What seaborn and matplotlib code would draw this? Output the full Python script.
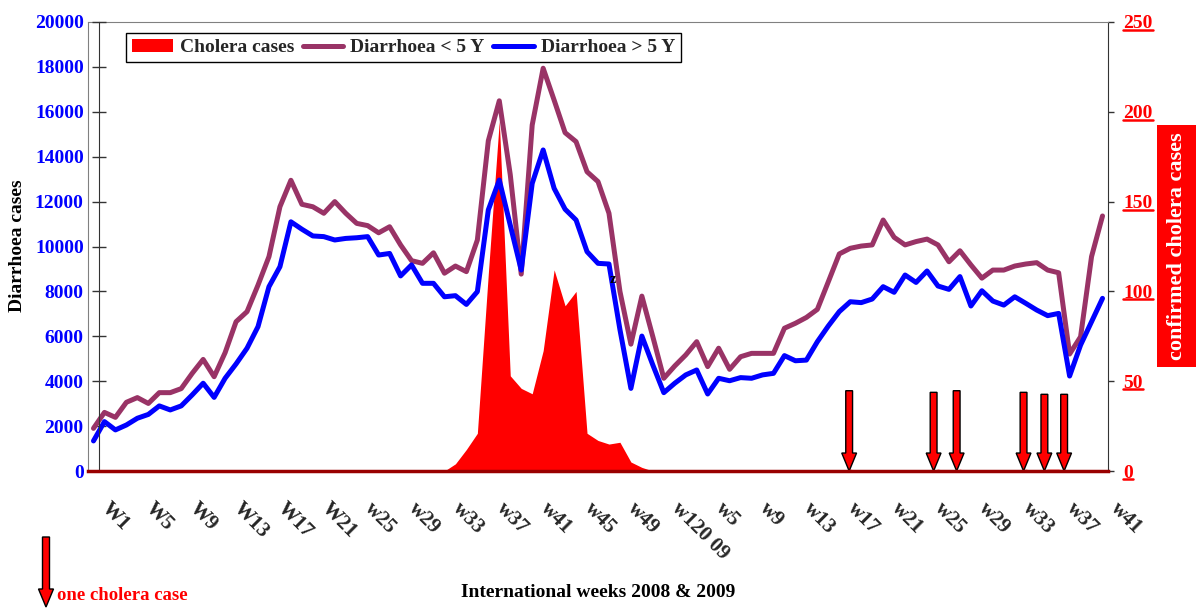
import numpy as np
import pandas as pd
import seaborn as sns
import matplotlib.pyplot as plt
from matplotlib.patches import Patch, FancyArrow, Rectangle
from matplotlib.lines import Line2D
from matplotlib.transforms import ScaledTranslation, IdentityTransform

sns.set_style("white")
plt.rcParams['font.family'] = ['Liberation Serif', 'DejaVu Serif']
plt.rcParams['font.weight'] = 'bold'
plt.rcParams['axes.labelweight'] = 'bold'

# weekly diarrhoea cases, W1 2008 .. w41 2009
under5 = [1900, 2610, 2390, 3060, 3270, 3010, 3490, 3490, 3670, 4350,
          4970, 4200, 5270, 6650, 7100, 8280, 9550, 11770, 12950, 11880,
          11770, 11480, 12000, 11480, 11030, 10930, 10610, 10880, 10070, 9370,
          9250, 9720, 8810, 9130, 8880, 10290, 14710, 16490, 13200, 8770,
          15410, 17940, 16520, 15070, 14670, 13330, 12890, 11480, 8000, 5650,
          7790, 5980, 4130, 4680, 5170, 5760, 4650, 5470, 4530, 5090,
          5240, 5240, 5240, 6360, 6580, 6840, 7200, 8430, 9670, 9920,
          10020, 10070, 11180, 10410, 10070, 10220, 10330, 10070, 9320, 9810,
          9180, 8590, 8950, 8950, 9130, 9220, 9280, 8950, 8830, 5210,
          5980, 9550, 11360]
over5 = [1340, 2200, 1830, 2050, 2350, 2520, 2900, 2720, 2900, 3390,
         3910, 3280, 4130, 4770, 5470, 6430, 8210, 9100, 11100, 10770,
         10470, 10440, 10290, 10360, 10390, 10440, 9620, 9690, 8690, 9180,
         8360, 8360, 7760, 7810, 7420, 7990, 11630, 12960, 10950, 8950,
         12810, 14300, 12590, 11660, 11180, 9770, 9250, 9220, 6300, 3680,
         6010, 4720, 3490, 3910, 4280, 4500, 3430, 4130, 4020, 4160,
         4130, 4280, 4350, 5140, 4910, 4940, 5760, 6460, 7100, 7540,
         7500, 7660, 8210, 7960, 8730, 8400, 8910, 8240, 8090, 8660,
         7350, 8030, 7570, 7390, 7760, 7470, 7170, 6920, 7020, 4230,
         5610, 6650, 7690]
# confirmed cholera cases per week
cholera = [0] * 32 + [0, 4, 12, 21, 110, 195, 53, 46, 43, 67,
                      112, 92, 100, 21, 17, 15, 16, 5, 2, 0] + [0] * 41
for w in [69, 77, 79, 85, 87, 88]:
    cholera[w] = 1

# single cholera cases marked with arrows (week position, arrow top)
arrow_weeks = [68.9, 76.6, 78.7, 84.8, 86.7, 88.5]
arrow_tops = [44.7, 43.8, 44.7, 43.8, 42.7, 42.7]

tick_labels = ['W1', 'W5', 'W9', 'W13', 'W17', 'W21', 'w25', 'w29', 'w33', 'w37',
               'w41', 'w45', 'w49', 'w120 09', 'w5', 'w9', 'w13', 'w17', 'w21',
               'w25', 'w29', 'w33', 'w37', 'w41']

weeks = np.arange(len(under5))
df = pd.DataFrame({"week": weeks, "under5": under5, "over5": over5, "cholera": cholera})

PURPLE = "#993366"
BLUE = "#0000FF"
RED = "#FF0000"
DARK = "#333333"

fig = plt.figure(figsize=(11.96, 6.10), dpi=100)
ax = fig.add_axes([88 / 1196, 1 - 471 / 610, 1020 / 1196, 449 / 610])
ax2 = ax.twinx()
ax.set_zorder(ax2.get_zorder() + 1)
ax.patch.set_visible(False)

# cholera area + arrows on the right axis
ax2.fill_between(df.week, df.cholera, color=RED, lw=0)
for w, top in zip(arrow_weeks, arrow_tops):
    ax2.add_patch(FancyArrow(w, top, 0, -top, width=0.62, head_width=1.35, head_length=10,
                             length_includes_head=True, fc=RED, ec='black', lw=1))

sns.lineplot(data=df, x="week", y="under5", ax=ax, color=PURPLE, lw=3.6)
sns.lineplot(data=df, x="week", y="over5", ax=ax, color=BLUE, lw=3.6)
ax.text(47.36, 8550, "z", fontsize=10, ha='center', va='center', color='black')

ax.set_xlim(-0.5, 92.5)
ax.set_ylim(0, 20000)
ax2.set_ylim(0, 250)
ax.grid(False)
ax2.grid(False)

# left axis
ax.set_yticks(range(0, 20001, 2000))
ax.tick_params(axis='y', direction='inout', length=10, width=1, color=DARK,
               labelcolor=BLUE, labelsize=14, pad=6)
ax.spines['left'].set_position(('data', 0.5))
ax.spines['left'].set_color(DARK)
ax.spines['top'].set_visible(False)
ax.spines['right'].set_visible(False)
ax.spines['bottom'].set_color('#990000')
ax.spines['bottom'].set_linewidth(2.5)

# x axis
ax.set_xticks(range(0, 93, 4))
ax.set_xticklabels(tick_labels, rotation=-45, ha='left', va='top',
                   rotation_mode='anchor', fontsize=15, fontweight='bold')
ax.tick_params(axis='x', which='major', length=0, pad=20)
ax.set_xticks(np.arange(-0.5, 92, 2), minor=True)
ax.tick_params(axis='x', which='minor', direction='out', length=5, width=1, color=DARK)
offset = ScaledTranslation(0.18, 0, fig.dpi_scale_trans)
for lab in ax.get_xticklabels():
    lab.set_transform(lab.get_transform() + offset)

# right axis
ax2.set_yticks(range(0, 251, 50))
ax2.tick_params(axis='y', direction='out', length=4.5, width=1, color=DARK,
                labelcolor=RED, labelsize=14, pad=6.5)
for s in ['left', 'top']:
    ax2.spines[s].set_color('#808080')
ax2.spines['right'].set_color(DARK)
ax2.spines['bottom'].set_visible(False)

ax.set_ylabel("Diarrhoea cases", fontsize=14, color='black', fontweight='bold')
ax.yaxis.set_label_coords(-0.061, 0.501)
ax.set_xlabel("International weeks 2008 & 2009", fontsize=14, color='black',
              fontweight='bold')
ax.xaxis.set_label_coords(0.5, -0.252)

# right axis title in a red box running off the edge
fig.add_artist(Rectangle((1157 / 1196, 1 - 367 / 610), 40 / 1196, 242 / 610,
                         facecolor=RED, edgecolor='none', transform=fig.transFigure))
fig.text(1177 / 1196, 1 - 246 / 610, "confirmed cholera cases", rotation=90,
         color='white', fontsize=16, ha='center', va='center', fontweight='bold')

handles = [Patch(facecolor=RED, edgecolor='none'),
           Line2D([], [], color=PURPLE, lw=3.6),
           Line2D([], [], color=BLUE, lw=3.6)]
leg = ax.legend(handles, ['Cholera cases', 'Diarrhoea < 5 Y', 'Diarrhoea > 5 Y'],
                ncol=3, loc='upper left', bbox_to_anchor=(0.0373, 0.9755), borderaxespad=0,
                frameon=True, fancybox=False, edgecolor='black', framealpha=1,
                prop={'size': 14, 'weight': 'bold'}, handlelength=2.1,
                handletextpad=0.35, columnspacing=0.45, borderpad=0.3)
leg.get_frame().set_linewidth(1)

# key for the arrows
fig.add_artist(FancyArrow(46 / 1196, 1 - 537 / 610, 0, -70 / 610, width=7 / 1196,
                          head_width=15 / 1196, head_length=18 / 610,
                          length_includes_head=True, fc=RED, ec='black', lw=1,
                          transform=fig.transFigure))
fig.text(57 / 1196, 1 - 595 / 610, "one cholera case", color=RED, fontsize=13.5,
         va='center', ha='left', fontweight='bold')

# underline right axis labels
fig.canvas.draw()
renderer = fig.canvas.get_renderer()
for lab in ax2.get_yticklabels():
    if lab.get_visible() and lab.get_text():
        bb = lab.get_window_extent(renderer)
        fig.add_artist(Line2D([bb.x0, bb.x1], [bb.y0 + 2.5, bb.y0 + 2.5], color=RED,
                              lw=1.8, transform=IdentityTransform()))

fig.savefig("out.png", dpi=100)
